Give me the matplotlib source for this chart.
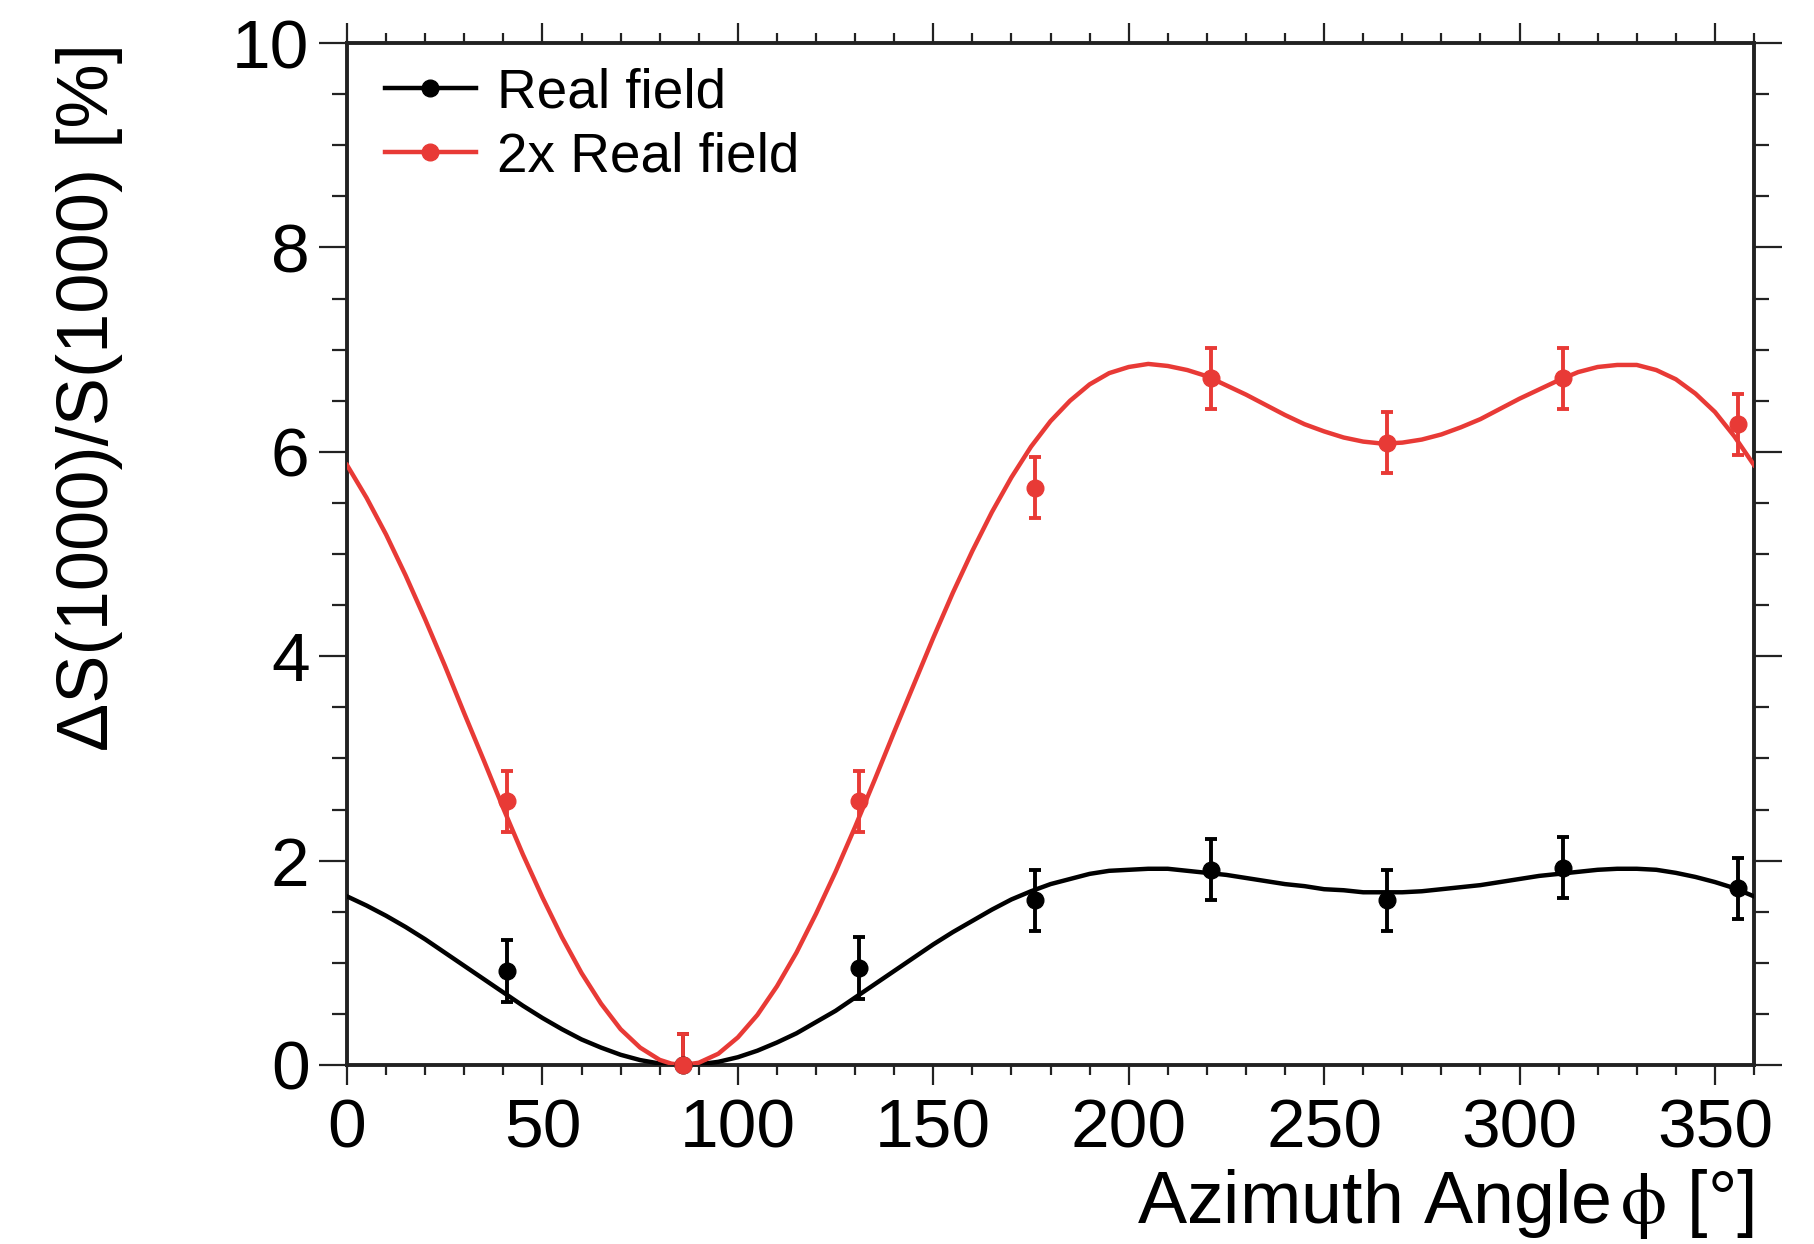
import numpy as np
import matplotlib
matplotlib.use('Agg')
import matplotlib.pyplot as plt
from matplotlib.lines import Line2D
from matplotlib.ticker import MultipleLocator

plt.rcParams['font.family'] = ['Liberation Sans', 'DejaVu Sans']
plt.rcParams['mathtext.fontset'] = 'stix'

# measured points (azimuth angle in degrees, signal change in %)
phi_pts = [41, 86, 131, 176, 221, 266, 311, 356]
real_vals = [0.92, 0.0, 0.95, 1.61, 1.91, 1.61, 1.93, 1.73]
real_errs = [0.3, 0.3, 0.3, 0.3, 0.3, 0.3, 0.3, 0.3]
double_vals = [2.58, 0.0, 2.58, 5.65, 6.72, 6.09, 6.72, 6.27]
double_errs = [0.3, 0.3, 0.3, 0.3, 0.3, 0.3, 0.3, 0.3]

# fit curves, values every 5 degrees
phi_fit = list(range(0, 81, 5)) + [83, 86] + list(range(90, 361, 5))
real_fit = [1.65, 1.56, 1.46, 1.35, 1.23, 1.10, 0.97, 0.84, 0.71, 0.58, 0.46, 0.35,
            0.25, 0.17, 0.10, 0.048, 0.014, 0.004, 0.0, 0.006, 0.031, 0.076, 0.14,
            0.22, 0.31, 0.42, 0.53, 0.66, 0.79, 0.92, 1.05, 1.18, 1.30, 1.41, 1.52,
            1.62, 1.70, 1.77, 1.82, 1.87, 1.90, 1.91, 1.92, 1.92, 1.90, 1.88, 1.86,
            1.83, 1.80, 1.77, 1.75, 1.72, 1.71, 1.69, 1.69, 1.69, 1.70, 1.72, 1.74,
            1.76, 1.79, 1.82, 1.85, 1.87, 1.89, 1.91, 1.92, 1.92, 1.91, 1.88, 1.84,
            1.79, 1.73, 1.65]
double_fit = [5.87, 5.55, 5.19, 4.79, 4.36, 3.91, 3.44, 2.98, 2.51, 2.06, 1.64, 1.25,
              0.90, 0.60, 0.35, 0.17, 0.05, 0.013, 0.0, 0.022, 0.11, 0.27, 0.49,
              0.77, 1.10, 1.48, 1.89, 2.33, 2.79, 3.26, 3.72, 4.18, 4.62, 5.03, 5.41,
              5.75, 6.05, 6.30, 6.50, 6.66, 6.77, 6.83, 6.86, 6.84, 6.80, 6.74, 6.65,
              6.56, 6.46, 6.36, 6.27, 6.20, 6.14, 6.10, 6.08, 6.09, 6.12, 6.17, 6.24,
              6.32, 6.42, 6.52, 6.61, 6.70, 6.78, 6.83, 6.85, 6.85, 6.80, 6.71, 6.57,
              6.39, 6.15, 5.87]

red = '#e83a36'

fig = plt.figure(figsize=(18.15, 12.44), dpi=100)
ax = fig.add_axes([0.1912, 0.1439, 0.7752, 0.8215])

ax.plot(phi_fit, real_fit, color='black', lw=3.2, zorder=3, solid_joinstyle='round')
ax.plot(phi_fit, double_fit, color=red, lw=3.2, zorder=3, solid_joinstyle='round')

for vals, errs, col in [(real_vals, real_errs, 'black'), (double_vals, double_errs, red)]:
    ax.errorbar(phi_pts, vals, yerr=errs, fmt='none', ecolor=col, elinewidth=2.8,
                capsize=4.5, capthick=2.8, zorder=4)
    ax.plot(phi_pts, vals, 'o', color=col, markersize=12, clip_on=False, zorder=5)

ax.set_xlim(0, 360)
ax.set_ylim(0, 10)
ax.xaxis.set_major_locator(MultipleLocator(50))
ax.xaxis.set_minor_locator(MultipleLocator(10))
ax.yaxis.set_major_locator(MultipleLocator(2))
ax.yaxis.set_minor_locator(MultipleLocator(0.5))

ax.tick_params(axis='both', which='both', direction='out', top=True, right=True,
               width=1.6, color='#222222')
ax.tick_params(axis='x', which='major', length=14.5, pad=9, labelsize=50)
ax.tick_params(axis='x', which='minor', length=7.5)
ax.tick_params(axis='y', which='major', length=20, pad=7, labelsize=50)
ax.tick_params(axis='y', which='minor', length=11)
for s in ax.spines.values():
    s.set_linewidth(2.8)
    s.set_color('#222222')

ax.set_xlabel(r'Azimuth Angle$\,\mathrm{\phi}$ [°]', fontsize=53, loc='right')
ax.xaxis.set_label_coords(1.0, -0.1)
ax.set_ylabel('ΔS(1000)/S(1000) [%]', fontsize=52, loc='top')
ax.yaxis.set_label_coords(-0.159, 1.0)

handles = [Line2D([], [], color='black', lw=3.2, marker='o', markersize=12),
           Line2D([], [], color=red, lw=3.2, marker='o', markersize=12)]
ax.legend(handles, ['Real field', '2x Real field'], loc='upper left',
          bbox_to_anchor=(0.027, 0.976), frameon=False, fontsize=39.5,
          handlelength=1.65, handletextpad=0.4, labelspacing=0.22,
          borderpad=0, borderaxespad=0)

fig.savefig('out.png', dpi=100)
